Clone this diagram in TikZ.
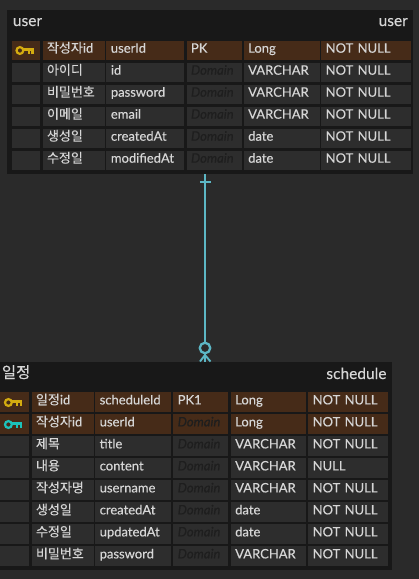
\documentclass[tikz,border=0pt]{standalone}
\usepackage{fontspec}
\usepackage{xcolor}
\setmainfont[FakeBold=0.25,WordSpace=0.6]{Lato}
\newfontfamily\kr[Scale=1.0,FakeBold=0.3]{Noto Sans CJK KR}
\definecolor{fondo}{HTML}{2A2A2A}
\definecolor{marco}{HTML}{181818}
\definecolor{celda}{HTML}{2D2D2D}
\definecolor{clave}{HTML}{462B18}
\definecolor{letra}{HTML}{D6D6D6}
\definecolor{domtxt}{HTML}{1E1E1E}
\definecolor{linea}{HTML}{5CB6C4}
\definecolor{llaveA}{HTML}{D4AC10}
\definecolor{llaveB}{HTML}{1CC2BA}
\newcommand{\dom}{{\itshape\color{domtxt}Domain}}
\begin{document}
\begin{tikzpicture}[
  x=1pt, y=-1pt,
  tabla/.style={fill=marco, inner sep=0pt, anchor=north west},
  titulo/.style={text=letra, inner sep=0pt, font=\fontsize{15.5}{17}\selectfont},
  cell/.style={anchor=west, inner xsep=4.5pt, inner ysep=0pt, minimum height=19.6pt,
    text height=9.8pt, text depth=5pt, align=left, text=letra,
    font=\fontsize{13}{15}\selectfont},
  rel/.style={draw=linea, line width=1.9pt},
  pics/llave/.style={code={
    \draw[line width=2.2pt] (-4.6,0) circle (3.4pt);
    \draw[line width=2.4pt] (-1.4,-1) -- (8,-1) -- (8,3);
    \draw[line width=2pt] (4.4,-1) -- (4.4,3);
  }}
]
  \useasboundingbox[fill=fondo] (0,0) rectangle (419,579);

  % tabla user
  \node[tabla, minimum width=406pt, minimum height=164pt] (userTbl) at (7,10) {};
  \node[titulo, anchor=base west] (userLog) at (12.7,26) {user};
  \node[titulo, anchor=base east] (userFis) at (408,26) {user};
  \foreach \r/\fc/\lg/\ph/\dm/\ty/\nu in {
    0/clave/{\kr 작성자}id/userId/PK/Long/NOT NULL,
    1/celda/{\kr 아이디}/id/\dom/VARCHAR/NOT NULL,
    2/celda/{\kr 비밀번호}/password/\dom/VARCHAR/NOT NULL,
    3/celda/{\kr 이메일}/email/\dom/VARCHAR/NOT NULL,
    4/celda/{\kr 생성일}/createdAt/\dom/date/NOT NULL,
    5/celda/{\kr 수정일}/modifiedAt/\dom/date/NOT NULL} {
    \node[cell, fill=\fc, text width=19pt]   (u\r k) at (12,50.3+22*\r)    {};
    \node[cell, fill=\fc, text width=53pt]   (u\r l) at (42.3,50.3+22*\r)  {\lg};
    \node[cell, fill=\fc, text width=69pt]   (u\r p) at (106.2,50.3+22*\r) {\ph};
    \node[cell, fill=\fc, text width=46pt]   (u\r d) at (186.3,50.3+22*\r) {\dm};
    \node[cell, fill=\fc, text width=67pt]   (u\r t) at (243.5,50.3+22*\r) {\ty};
    \node[cell, fill=\fc, text width=80.5pt] (u\r n) at (321,50.3+22*\r)   {\nu};
  }
  \pic[color=llaveA] at (24.5,50.5) {llave};

  % tabla schedule
  \node[tabla, minimum width=392pt, minimum height=208pt] (schedTbl) at (0,362) {};
  \node[titulo, anchor=base west] (schedLog) at (1.7,378) {\kr 일정};
  \node[titulo, anchor=base east] (schedFis) at (386.7,379) {schedule};
  \foreach \r/\fc/\lg/\ph/\dm/\ty/\nu in {
    0/clave/{\kr 일정}id/scheduleId/PK1/Long/NOT NULL,
    1/clave/{\kr 작성자}id/userId/\dom/Long/NOT NULL,
    2/celda/{\kr 제목}/title/\dom/VARCHAR/NOT NULL,
    3/celda/{\kr 내용}/content/\dom/VARCHAR/NULL,
    4/celda/{\kr 작성자명}/username/\dom/VARCHAR/NOT NULL,
    5/celda/{\kr 생성일}/createdAt/\dom/date/NOT NULL,
    6/celda/{\kr 수정일}/updatedAt/\dom/date/NOT NULL,
    7/celda/{\kr 비밀번호}/password/\dom/VARCHAR/NOT NULL} {
    \node[cell, fill=\fc, text width=20pt] (s\r k) at (0,402+22*\r)     {};
    \node[cell, fill=\fc, text width=53pt] (s\r l) at (31.3,402+22*\r)  {\lg};
    \node[cell, fill=\fc, text width=67pt] (s\r p) at (95,402+22*\r)    {\ph};
    \node[cell, fill=\fc, text width=46pt] (s\r d) at (173,402+22*\r)   {\dm};
    \node[cell, fill=\fc, text width=66pt] (s\r t) at (230.5,402+22*\r) {\ty};
    \node[cell, fill=\fc, text width=71pt] (s\r n) at (308,402+22*\r)   {\nu};
  }
  \pic[color=llaveA] at (13,402.5) {llave};
  \pic[color=llaveB] at (13,424.5) {llave};

  % relacion
  \coordinate (relUser) at (205,174);
  \coordinate (relSched) at (205,362);
  \coordinate (relPie) at (205,355);
  \coordinate (tickA) at (199.8,182.3);
  \coordinate (tickB) at (211,182.3);
  \coordinate (pieA) at (200,361.5);
  \coordinate (pieB) at (210.5,361.5);
  \node[circle, rel, line width=2.3pt, inner sep=0pt, minimum size=10.5pt] (relCirc) at (205,348) {};
  \draw[rel] (relUser) -- (relCirc);
  \draw[rel] (tickA) -- (tickB);
  \draw[rel] (relCirc) -- (relSched);
  \draw[rel] (relPie) -- (pieA) (relPie) -- (pieB);
\end{tikzpicture}
\end{document}
